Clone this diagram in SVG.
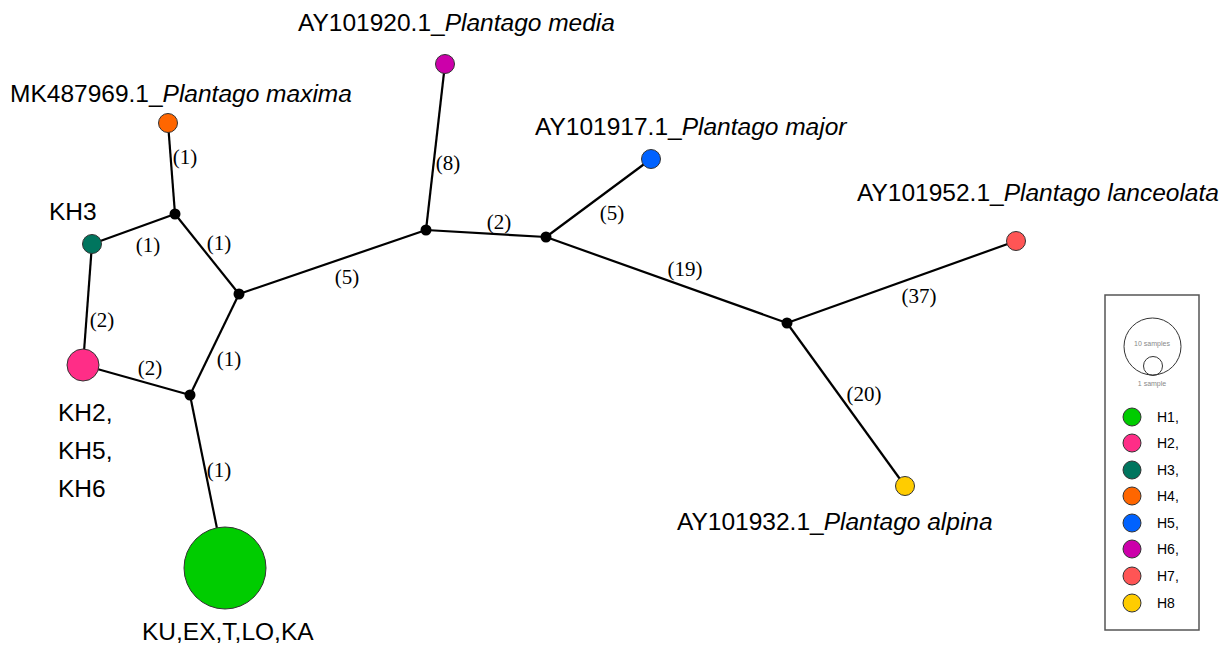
<svg xmlns="http://www.w3.org/2000/svg" width="1225" height="645" viewBox="0 0 1225 645">
<style>
.e{stroke:#000;stroke-width:2.2;fill:none}
.n{stroke:#333;stroke-width:1}
.j{fill:#000}
.lbl{font-family:"Liberation Sans",Arial,sans-serif;font-size:24.5px;fill:#000}
.it{font-style:italic}
.el{font-family:"Liberation Serif","Times New Roman",serif;font-size:21px;fill:#000;text-anchor:middle}
.lg{font-family:"Liberation Sans",Arial,sans-serif;font-size:14px;fill:#000}
.sm{font-family:"Liberation Sans",Arial,sans-serif;font-size:7px;fill:#888;text-anchor:middle}
</style>
<rect width="1225" height="645" fill="#fff"/>
<g id="connectors">
<line class="e" x1="168" y1="123" x2="175" y2="214"/>
<line class="e" x1="92" y1="244" x2="175" y2="214"/>
<line class="e" x1="175" y1="214" x2="239" y2="294"/>
<line class="e" x1="92" y1="244" x2="83" y2="365"/>
<line class="e" x1="83" y1="365" x2="190" y2="395"/>
<line class="e" x1="190" y1="395" x2="239" y2="294"/>
<line class="e" x1="190" y1="395" x2="225" y2="568"/>
<line class="e" x1="239" y1="294" x2="426" y2="230"/>
<line class="e" x1="426" y1="230" x2="445" y2="64"/>
<line class="e" x1="426" y1="230" x2="546" y2="237"/>
<line class="e" x1="546" y1="237" x2="651" y2="159"/>
<line class="e" x1="546" y1="237" x2="787" y2="323"/>
<line class="e" x1="787" y1="323" x2="1016" y2="241"/>
<line class="e" x1="787" y1="323" x2="905" y2="486"/>
<text class="el" x="185" y="164">(1)</text>
<text class="el" x="148" y="252">(1)</text>
<text class="el" x="219" y="250">(1)</text>
<text class="el" x="102" y="327">(2)</text>
<text class="el" x="150" y="375">(2)</text>
<text class="el" x="229" y="366">(1)</text>
<text class="el" x="219" y="477">(1)</text>
<text class="el" x="347" y="284">(5)</text>
<text class="el" x="448" y="170">(8)</text>
<text class="el" x="499" y="229">(2)</text>
<text class="el" x="612" y="220">(5)</text>
<text class="el" x="685" y="276">(19)</text>
<text class="el" x="919" y="303">(37)</text>
<text class="el" x="864" y="401">(20)</text>
</g>
<g id="junctions">
<circle class="j" cx="175" cy="214" r="5.5"/>
<circle class="j" cx="239" cy="294" r="5.5"/>
<circle class="j" cx="190" cy="395" r="5.5"/>
<circle class="j" cx="426" cy="230" r="5.5"/>
<circle class="j" cx="546" cy="237" r="5.5"/>
<circle class="j" cx="787" cy="323" r="5.5"/>
</g>
<g id="H1"><circle class="n" cx="225" cy="568" r="41" fill="#00CC00"/><text class="lbl" x="142" y="640">KU,EX,T,LO,KA</text></g>
<g id="H2"><circle class="n" cx="83" cy="365" r="16" fill="#FF2D87"/><text class="lbl" x="58" y="421">KH2,</text><text class="lbl" x="58" y="459">KH5,</text><text class="lbl" x="58" y="497">KH6</text></g>
<g id="H3"><circle class="n" cx="92" cy="244" r="9.5" fill="#00755E"/><text class="lbl" x="49" y="220">KH3</text></g>
<g id="H4"><circle class="n" cx="168" cy="123" r="9.5" fill="#FF6600"/><text class="lbl" x="10" y="102">MK487969.1_<tspan class="it">Plantago maxima</tspan></text></g>
<g id="H5"><circle class="n" cx="651" cy="159" r="9.5" fill="#0062FF"/><text class="lbl" x="535" y="135">AY101917.1_<tspan class="it">Plantago major</tspan></text></g>
<g id="H6"><circle class="n" cx="445" cy="64" r="9.5" fill="#CC00AA"/><text class="lbl" x="298" y="31">AY101920.1_<tspan class="it">Plantago media</tspan></text></g>
<g id="H7"><circle class="n" cx="1016" cy="241" r="9.5" fill="#FF5555"/><text class="lbl" x="857" y="201">AY101952.1_<tspan class="it">Plantago lanceolata</tspan></text></g>
<g id="H8"><circle class="n" cx="905" cy="486" r="9.5" fill="#FFCC00"/><text class="lbl" x="677" y="530">AY101932.1_<tspan class="it">Plantago alpina</tspan></text></g>
<g id="legend">
<rect x="1105" y="295" width="94" height="335" fill="#fff" stroke="#555" stroke-width="1.5"/>
<circle cx="1152.5" cy="346.5" r="28.5" fill="none" stroke="#333" stroke-width="1"/>
<circle cx="1153" cy="366" r="9.5" fill="none" stroke="#333" stroke-width="1"/>
<text class="sm" x="1152" y="346">10 samples</text>
<text class="sm" x="1152" y="386">1 sample</text>
<circle class="n" cx="1132" cy="417" r="9" fill="#00CC00"/><text class="lg" x="1157" y="422">H1,</text>
<circle class="n" cx="1132" cy="443" r="9" fill="#FF2D87"/><text class="lg" x="1157" y="448">H2,</text>
<circle class="n" cx="1132" cy="470" r="9" fill="#00755E"/><text class="lg" x="1157" y="475">H3,</text>
<circle class="n" cx="1132" cy="496" r="9" fill="#FF6600"/><text class="lg" x="1157" y="501">H4,</text>
<circle class="n" cx="1132" cy="523" r="9" fill="#0062FF"/><text class="lg" x="1157" y="528">H5,</text>
<circle class="n" cx="1132" cy="549" r="9" fill="#CC00AA"/><text class="lg" x="1157" y="554">H6,</text>
<circle class="n" cx="1132" cy="576" r="9" fill="#FF5555"/><text class="lg" x="1157" y="581">H7,</text>
<circle class="n" cx="1132" cy="603" r="9" fill="#FFCC00"/><text class="lg" x="1157" y="608">H8</text>
</g>
</svg>
